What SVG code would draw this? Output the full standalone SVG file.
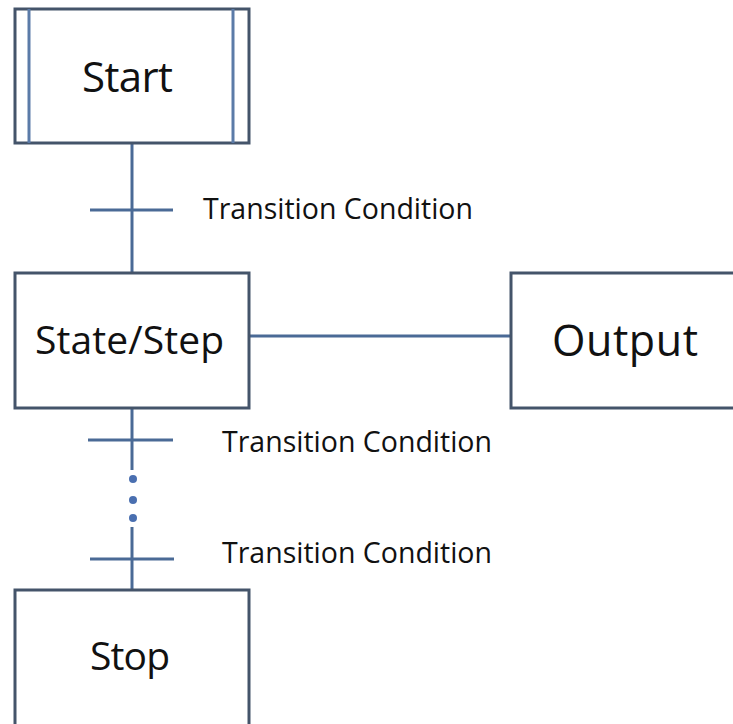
<svg xmlns="http://www.w3.org/2000/svg" width="733" height="724" viewBox="0 0 733 724">
<style>
.box{fill:#ffffff;stroke:#44546a;stroke-width:3}
.inner{stroke:#5b7ba8;stroke-width:3}
.conn{stroke:#4a6a96;stroke-width:3;fill:none}
.dot{fill:#4a6fb0}
.big{font-family:"Open Sans","Liberation Sans",sans-serif;font-size:39px;fill:#111}
.lbl{font-family:"Open Sans","Liberation Sans",sans-serif;font-size:28.5px;fill:#111}
</style>
<rect width="733" height="724" fill="#ffffff"/>
<g id="connectors">
<line class="conn" x1="132" y1="143" x2="132" y2="272"/>
<line class="conn" x1="90" y1="210" x2="173" y2="210"/>
<line class="conn" x1="249" y1="336" x2="511" y2="336"/>
<line class="conn" x1="132" y1="408" x2="132" y2="470"/>
<line class="conn" x1="88" y1="440" x2="173" y2="440"/>
<circle class="dot" cx="133" cy="479" r="4"/>
<circle class="dot" cx="133" cy="500" r="4"/>
<circle class="dot" cx="133" cy="518" r="4"/>
<line class="conn" x1="132" y1="527" x2="132" y2="589"/>
<line class="conn" x1="90" y1="559" x2="174" y2="559"/>
</g>
<g id="start">
<rect class="box" x="15" y="9" width="234" height="134"/>
<line class="inner" x1="29" y1="9" x2="29" y2="143"/>
<line class="inner" x1="233" y1="9" x2="233" y2="143"/>
<text class="big" x="82" y="92" style="font-size:42px" textLength="91">Start</text>
</g>
<g id="label1"><text class="lbl" x="203" y="219" textLength="270">Transition Condition</text></g>
<g id="state">
<rect class="box" x="15" y="273" width="234" height="135"/>
<text class="big" x="35" y="354" textLength="189">State/Step</text>
</g>
<g id="output">
<rect class="box" x="511" y="273" width="240" height="135"/>
<text class="big" x="552" y="356" style="font-size:43px" textLength="146">Output</text>
</g>
<g id="label2"><text class="lbl" x="222" y="452" textLength="270">Transition Condition</text></g>
<g id="label3"><text class="lbl" x="222" y="563" textLength="270">Transition Condition</text></g>
<g id="stop">
<rect class="box" x="15" y="590" width="234" height="150"/>
<text class="big" x="90" y="670" textLength="80">Stop</text>
</g>
</svg>
